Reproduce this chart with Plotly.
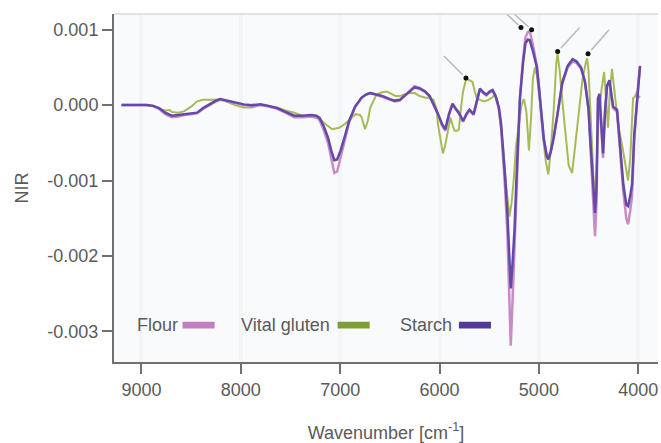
import plotly.graph_objects as go

# ---------------- data ----------------
wn_starch = [9200, 9100, 8950, 8880, 8822, 8760, 8694, 8630, 8567, 8500, 8440, 8380, 8312, 8250, 8206,
             8130, 8057, 7970, 7887, 7802, 7720, 7632, 7550, 7462, 7380, 7292, 7240, 7207, 7165, 7122,
             7090, 7059, 7030, 6995, 6950, 6910, 6850, 6783, 6740, 6698, 6640, 6570, 6500, 6450, 6400,
             6330, 6251, 6200, 6145, 6100, 6060, 6020, 5975, 5941, 5905, 5869, 5835, 5805, 5763, 5730,
             5699, 5675, 5657, 5625, 5593, 5560, 5529, 5495, 5466, 5435, 5402, 5380, 5360, 5340, 5317,
             5300, 5283, 5265, 5245, 5220, 5190, 5160, 5135, 5110, 5092, 5060, 5020, 5000, 4977, 4950,
             4920, 4905, 4880, 4850, 4810, 4765, 4710, 4660, 4620, 4575, 4536, 4500, 4485, 4460, 4435,
             4420, 4405, 4390, 4372, 4354, 4335, 4314, 4290, 4270, 4253, 4213, 4183, 4150, 4120, 4102,
             4080, 4062, 4040, 4020, 4000, 3982]

starch = [0.0, 0.0, 0.0, -0.00001, -0.00004, -0.0001, -0.00014, -0.00013, -0.00012, -0.00011, -0.0001,
          -0.00004, 0.00001, 0.00006, 0.00008, 0.00006, 0.00004, 0.00001, 0.0, 0.00001, -0.00001, -0.00004,
          -0.00009, -0.00014, -0.00014, -0.00013, -0.00014, -0.00017, -0.00028, -0.00043, -0.0006, -0.00073,
          -0.00072, -0.0006, -0.0004, -0.00021, -0.00002, 0.0001, 0.00014, 0.00016, 0.00014, 0.00012,
          0.00008, 0.00006, 0.00007, 0.00015, 0.000235, 0.00022, 0.00018, 0.00012, 0.00002, -0.0001,
          -0.00025, -0.00032, -0.00012, 0.00002, -0.00005, -0.0001, -0.00021, -0.00012, -0.00006, -0.0001,
          -0.00012, 0.00005, 0.00022, 0.00017, 0.00014, 0.00018, 0.0002, 0.00012, -0.000035, -0.00025,
          -0.00056, -0.00095, -0.00143, -0.00195, -0.00243, -0.0021, -0.00165, -0.0008, 0.0001, 0.00055,
          0.00082, 0.00087, 0.00086, 0.00072, 0.0005, 0.00025, -0.00012, -0.00045, -0.00068, -0.00072,
          -0.00062, -0.00043, -0.0001, 0.0003, 0.00052, 0.00061, 0.00058, 0.0005, 0.00031, -0.00005,
          -0.0004, -0.00095, -0.00143, -0.0011, 0.00009, 0.00015, -0.0002, -0.00064, -0.0001, 0.00026,
          0.00033, 0.00015, -0.00002, -0.00006, -0.00056, -0.00105, -0.00132, -0.00134, -0.0012, -0.00105,
          -0.0004, -0.00005, 0.0003, 0.00052]

flour = [0.0, 0.0, 0.0, -0.00001, -0.00005, -0.00012, -0.00016, -0.00015, -0.00013, -0.00012, -0.00011,
         -0.00005, 0.0, 0.00005, 0.00007, 0.00005, 0.00003, 0.0, -0.00001, 0.0, -0.00002, -0.00005,
         -0.0001, -0.00016, -0.00016, -0.00015, -0.00016, -0.0002, -0.00033, -0.0005, -0.0007, -0.0009,
         -0.00088, -0.00068, -0.00044, -0.00023, -0.00003, 0.0001, 0.00014, 0.00016, 0.00014, 0.00011,
         0.00007, 0.00005, 0.00006, 0.00015, 0.00025, 0.00023, 0.00018, 0.00012, 0.00001, -0.00011,
         -0.00027, -0.00034, -0.00013, 0.00001, -0.00006, -0.00011, -0.00022, -0.00013, -0.00007, -0.00011,
         -0.00013, 0.00004, 0.00021, 0.00016, 0.00013, 0.00017, 0.00019, 0.00011, -0.00005, -0.0003,
         -0.00065, -0.0011, -0.0017, -0.0025, -0.00319, -0.0026, -0.0019, -0.0009, 0.0001, 0.0006,
         0.0009, 0.00097, 0.00098, 0.0008, 0.00052, 0.00024, -0.00013, -0.00046, -0.00068, -0.00071,
         -0.0006, -0.00041, -0.0001, 0.00028, 0.0005, 0.00058, 0.00056, 0.00048, 0.0003, -0.00007,
         -0.00045, -0.00105, -0.00174, -0.0013, 0.00007, 0.00013, -0.00023, -0.0007, -0.00012, 0.00024,
         0.00031, 0.00013, -0.00004, -0.00009, -0.00062, -0.00115, -0.0015, -0.00158, -0.0014, -0.0012,
         -0.00045, -0.00007, 0.00028, 0.0005]

wn_gluten = [9200, 9100, 8950, 8880, 8822, 8760, 8715, 8694, 8630, 8567, 8500, 8440, 8380, 8312, 8250,
             8206, 8130, 8057, 7970, 7887, 7802, 7720, 7632, 7550, 7462, 7380, 7292, 7207, 7150, 7079,
             7010, 6952, 6900, 6846, 6800, 6783, 6749, 6720, 6698, 6660, 6634, 6580, 6528, 6443, 6400,
             6358, 6300, 6251, 6200, 6145, 6100, 6060, 6030, 6016, 5990, 5966, 5945, 5924, 5890, 5865,
             5848, 5820, 5805, 5785, 5763, 5735, 5720, 5700, 5669, 5645, 5627, 5593, 5550, 5508, 5470,
             5444, 5420, 5402, 5380, 5360, 5330, 5296, 5275, 5253, 5230, 5202, 5175, 5150, 5125, 5100,
             5080, 5060, 5040, 5020, 4990, 4960, 4930, 4905, 4880, 4850, 4825, 4812, 4790, 4760, 4730,
             4700, 4665, 4640, 4600, 4560, 4530, 4515, 4500, 4480, 4460, 4440, 4420, 4400, 4370, 4343,
             4325, 4304, 4285, 4264, 4240, 4203, 4160, 4133, 4102, 4080, 4052, 4030, 4012, 3995, 3982]

gluten = [0.0, 0.0, 0.0, -0.00002, -0.00005, -0.00007, -0.000065, -0.00009, -0.0001, -0.00008, -0.00002,
          0.00005, 0.00007, 0.00007, 0.00007, 0.00008, 0.00004, 0.0, -0.00003, -0.00003, 0.0, -0.00001,
          -0.00003, -0.00007, -0.0001, -0.00014, -0.00015, -0.00018, -0.00025, -0.00032, -0.0003, -0.00025,
          -0.00018, -0.00012, -0.00013, -0.000165, -0.00032, -0.0002, -0.000035, 0.00008, 0.00014, 0.00017,
          0.00018, 0.00012, 0.00012, 0.00014, 0.00016, 0.00016, 0.00012, 0.0001, 0.00009, 0.00007, -0.00005,
          -0.00025, -0.00045, -0.00064, -0.00055, -0.00038, -0.000165, -0.00028, -0.00034, -0.00034,
          -0.00032, -0.00005, 0.00018, 0.00033, 0.00035, 0.00033, 0.00031, 0.00018, 0.0001, 0.00007,
          0.00005, 0.00007, 0.0001, 0.00014, 0.00008, -0.00008, -0.0003, -0.00056, -0.00105, -0.00148,
          -0.0013, -0.00099, -0.00055, -0.00025, 0.0, 0.00008, -0.0001, -0.0006, -0.0002, 0.00035, 0.0005,
          0.0004, 0.00005, -0.0004, -0.00075, -0.00092, -0.0006, -0.00005, 0.00055, 0.00068, 0.00045, 0.0,
          -0.00045, -0.0008, -0.0009, -0.0006, -0.0001, 0.00035, 0.00055, 0.00062, 0.00045, -0.0001,
          -0.0008, -0.00125, -0.0009, -0.0002, 0.0002, 0.00044, 0.0001, -0.0003, 0.0002, 0.00048, 0.0002,
          -0.00026, -0.00055, -0.00079, -0.001, -0.0007, 0.00009, 0.00012, 0.00018, 0.0001, 0.00012]

peak_wn = [5734, 5180, 5073, 4811, 4505]
peak_nir = [0.00036, 0.00103, 0.001, 0.00071, 0.00068]

series_names = ["Flour", "Vital gluten", "Starch"]
series_colors = ["#c27fbd", "#7f9f35", "#53399c"]

y_tickvals = [0.001, 0.0, -0.001, -0.002, -0.003]
y_ticktext = ["0.001", "0.000", "-0.001", "-0.002", "-0.003"]
x_tickvals = [9000, 8000, 7000, 6000, 5000, 4000]
x_ticktext = ["9000", "8000", "7000", "6000", "5000", "4000"]

# ---------------- figure ----------------
FONT = "Liberation Sans"
TXT = "#5a5a5a"

fig = go.Figure()
fig.add_trace(go.Scatter(x=wn_gluten, y=gluten, mode="lines", name=series_names[1],
                         line=dict(color="#a6bb58", width=2), showlegend=False))
fig.add_trace(go.Scatter(x=wn_starch, y=flour, mode="lines", name=series_names[0],
                         line=dict(color="#c98ac6", width=2.5), showlegend=False))
fig.add_trace(go.Scatter(x=wn_starch, y=starch, mode="lines", name=series_names[2],
                         line=dict(color="#6449a8", width=2.5), showlegend=False))
fig.add_trace(go.Scatter(x=peak_wn, y=peak_nir, mode="markers", name="peaks",
                         marker=dict(color="#111111", size=5), showlegend=False))

# pointer lines to the marked peaks (pixel offsets from each peak, positive y = up)
pointer_offsets = [(-22, 22), (-18, 17), (-20, 18), (22, 24), (21, 24)]
for px, py, (dx, dy) in zip(peak_wn, peak_nir, pointer_offsets):
    fig.add_shape(type="line", xref="x", yref="y", xsizemode="pixel", ysizemode="pixel",
                  xanchor=px, yanchor=py, x0=dx, y0=dy, x1=dx * 0.15, y1=dy * 0.15,
                  line=dict(color="#b8b8b8", width=1.5), layer="above")

# manual legend (text followed by swatch)
legend_text_x = [0.038, 0.230, 0.522]
legend_swatch_x = [(0.126, 0.185), (0.411, 0.470), (0.634, 0.693)]
for name, col, tx, (s0, s1) in zip(series_names, series_colors, legend_text_x, legend_swatch_x):
    fig.add_annotation(x=tx, y=0.107, xref="paper", yref="paper", text=name, showarrow=False,
                       xanchor="left", yanchor="middle", font=dict(family=FONT, size=18, color=TXT))
    fig.add_shape(type="rect", xref="paper", yref="paper", x0=s0, x1=s1, y0=0.096, y1=0.116,
                  fillcolor=col, line=dict(width=0))

# top border
fig.add_shape(type="line", xref="paper", yref="paper", x0=0, x1=1, y0=1, y1=1,
              line=dict(color="#dcd9d6", width=1.5))

fig.update_layout(
    width=661, height=443,
    margin=dict(l=114, r=3, t=14, b=75),
    paper_bgcolor="white",
    plot_bgcolor="#f9fafb",
    font=dict(family=FONT, size=18, color=TXT),
    xaxis=dict(range=[9276, 3801], tickvals=x_tickvals, ticktext=x_ticktext,
               showgrid=True, gridcolor="#f3f4f6", gridwidth=4, zeroline=False,
               showline=True, linecolor="#707070", linewidth=2,
               ticks="outside", ticklen=10, tickwidth=1.5, tickcolor="#707070",
               tickfont=dict(family=FONT, size=18, color=TXT),
               title=dict(text="Wavenumber [cm<sup>-1</sup>]", standoff=28,
                          font=dict(family=FONT, size=18, color=TXT))),
    yaxis=dict(range=[-0.003407, 0.0012086], tickvals=y_tickvals, ticktext=y_ticktext,
               showgrid=False, zeroline=False,
               showline=True, linecolor="#707070", linewidth=2,
               ticks="outside", ticklen=10, tickwidth=1.5, tickcolor="#707070",
               tickfont=dict(family=FONT, size=18, color=TXT),
               title=dict(text="NIR", standoff=14,
                          font=dict(family=FONT, size=18, color=TXT))),
)

fig.write_html("out.html", config={"displayModeBar": False},
               post_script="document.body.style.margin='0';document.body.style.overflow='hidden';")
